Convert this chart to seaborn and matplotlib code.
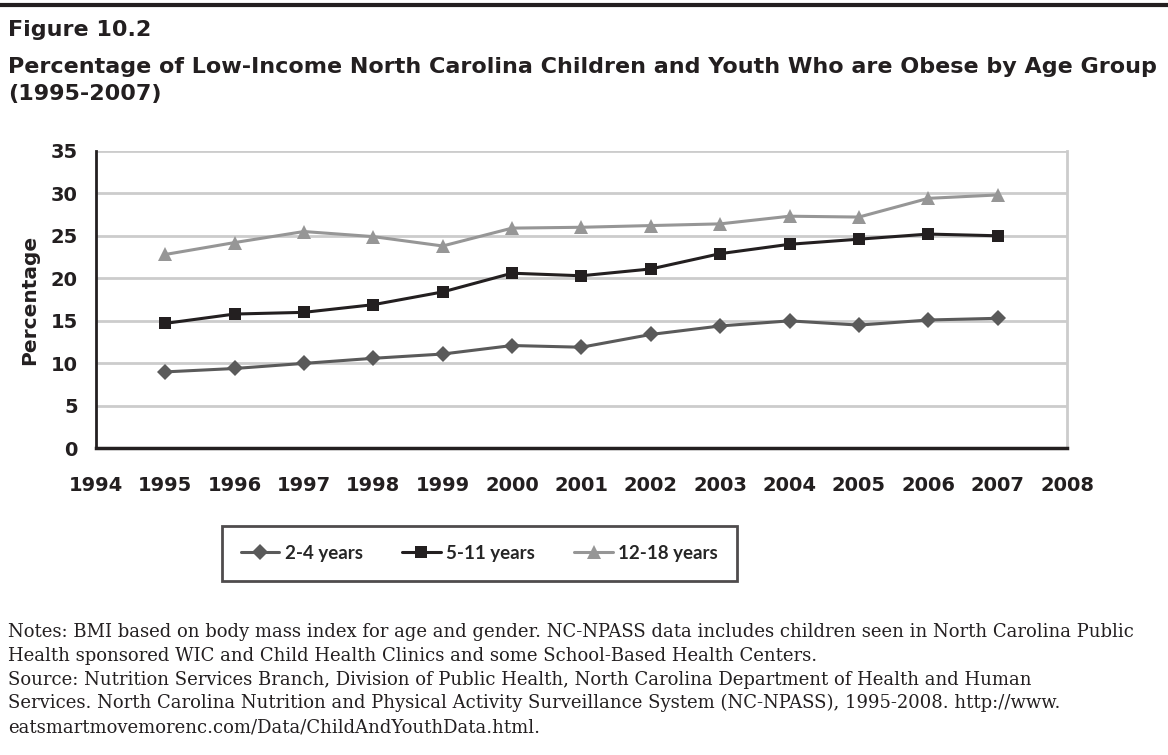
import pandas as pd
import seaborn as sns
from matplotlib import pyplot as plt

px = 1/100

years = list(range(1995, 2008))
age_2_4 = [9.0, 9.4, 10.0, 10.6, 11.1, 12.1, 11.9, 13.4, 14.4, 15.0, 14.5, 15.1, 15.3]
age_5_11 = [14.7, 15.8, 16.0, 16.9, 18.4, 20.6, 20.3, 21.1, 22.9, 24.0, 24.6, 25.2, 25.0]
age_12_18 = [22.8, 24.2, 25.5, 24.9, 23.8, 25.9, 26.0, 26.2, 26.4, 27.3, 27.2, 29.4, 29.8]
groups = ['2-4 years', '5-11 years', '12-18 years']

notes = [
    "Notes: BMI based on body mass index for age and gender. NC-NPASS data includes children seen in North Carolina Public",
    "Health sponsored WIC and Child Health Clinics and some School-Based Health Centers.",
    "Source: Nutrition Services Branch, Division of Public Health, North Carolina Department of Health and Human",
    "Services. North Carolina Nutrition and Physical Activity Surveillance System (NC-NPASS), 1995-2008. http://www.",
    "eatsmartmovemorenc.com/Data/ChildAndYouthData.html.",
]

df = pd.DataFrame({
    'year': years * 3,
    'pct': age_2_4 + age_5_11 + age_12_18,
    'group': [groups[0]] * 13 + [groups[1]] * 13 + [groups[2]] * 13,
})

sns.set_style("white")
plt.rcParams['font.family'] = ['DejaVu Sans']

fig = plt.figure(figsize=(1168*px, 755*px), dpi=100)
ax = fig.add_axes([0.082, 0.406, 0.8316, 0.3944])

palette = {groups[0]: '#5a5a5a', groups[1]: '#231f20', groups[2]: '#969696'}
markers = {groups[0]: 'D', groups[1]: 's', groups[2]: '^'}
sizes = {groups[0]: 8, groups[1]: 9, groups[2]: 10}

for g in groups:
    sub = df[df['group'] == g]
    sns.lineplot(data=sub, x='year', y='pct', color=palette[g], marker=markers[g],
                 markersize=sizes[g], markeredgewidth=0, linewidth=2.2, label=g, ax=ax)

ax.set_xlim(1994, 2008)
ax.set_ylim(0, 35)
ax.set_xticks(range(1994, 2009))
ax.set_yticks(range(0, 36, 5))
ax.grid(axis='y', color='#cccccc', linewidth=2)
ax.set_axisbelow(True)
ax.spines['top'].set_visible(False)
ax.spines['right'].set_color('#cccccc')
ax.spines['right'].set_linewidth(2)
ax.spines['left'].set_color('#231f20')
ax.spines['left'].set_linewidth(2)
ax.spines['bottom'].set_color('#231f20')
ax.spines['bottom'].set_linewidth(2.5)
ax.tick_params(axis='both', direction='out', length=7, width=2, color='#231f20',
               labelsize=14, labelcolor='#231f20', pad=6)
ax.tick_params(axis='x', pad=13)
for lab in ax.get_xticklabels() + ax.get_yticklabels():
    lab.set_fontweight('bold')
ax.set_xlabel('')
ax.set_ylabel('Percentage', fontsize=14.5, fontweight='bold', color='#231f20', labelpad=8)

leg = ax.legend(loc='center', bbox_to_anchor=(0.395, -0.352), ncol=3, frameon=True,
                fancybox=False, edgecolor='#231f20', handlelength=2.05,
                columnspacing=2.1, borderpad=1.0, handletextpad=0.3,
                prop={'weight': 'bold', 'size': 13.5, 'family': 'Lato'})
leg.get_frame().set_linewidth(2)

fig.add_artist(plt.Line2D([0, 1], [0.993, 0.993], color='#231f20', linewidth=3))
fig.text(0.007, 0.96, 'Figure 10.2', fontsize=16, fontweight='bold', color='#231f20', va='center')
fig.text(0.007, 0.911, 'Percentage of Low-Income North Carolina Children and Youth Who are Obese by Age Group',
         fontsize=16, fontweight='bold', color='#231f20', va='center')
fig.text(0.007, 0.876, '(1995-2007)', fontsize=16, fontweight='bold', color='#231f20', va='center')

y0 = 1 - 632/755
for i, line in enumerate(notes):
    fig.text(0.007, y0 - i * 0.0315, line, fontsize=13, family='DejaVu Serif',
             color='#231f20', va='center')

plt.savefig('out.png', dpi=100)
